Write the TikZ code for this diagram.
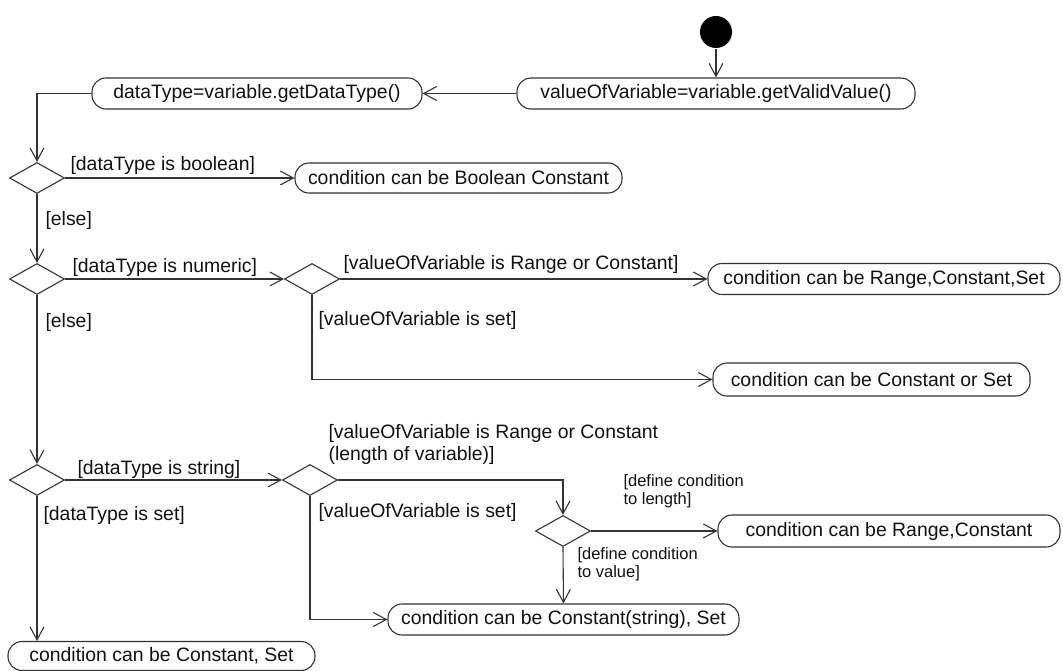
\documentclass[tikz,border=0pt]{standalone}
\usepackage{fontspec}
\setmainfont{Liberation Sans}
\usetikzlibrary{shapes.geometric,arrows.meta}
\definecolor{linec}{HTML}{333333}
\definecolor{txtc}{HTML}{111111}
\begin{document}
\begin{tikzpicture}[x=1pt,y=-1pt,line width=1.1pt,
  act/.style={draw=linec, rectangle, rounded corners=14pt, inner sep=0pt, text=txtc,
    font=\fontsize{19.4}{23}\selectfont},
  dec/.style={draw=linec, diamond, inner sep=0pt, minimum width=55pt, minimum height=31pt},
  guard/.style={inner sep=0pt, anchor=west, text=txtc, font=\fontsize{19.4}{22}\selectfont, align=left},
  sguard/.style={inner sep=0pt, anchor=west, text=txtc, font=\fontsize{16.5}{18.5}\selectfont, align=left},
  flow/.style={draw=linec, -{Straight Barb[length=13pt,width=14pt]}},
]
\useasboundingbox (0,0) rectangle (1063,671);

% nodes
\node[circle, fill=black, minimum size=32pt, inner sep=0pt] (init) at (716,32) {};
\node[act, minimum width=398pt, minimum height=31pt] (vov) at (716,93.5) {valueOfVariable=variable.getValidValue()};
\node[act, minimum width=330pt, minimum height=31pt] (dt) at (257,93.5) {dataType=variable.getDataType()};

\node[dec] (d1) at (37,178) {};
\node[act, minimum width=327pt, minimum height=30pt] (bool) at (458.5,178) {condition can be Boolean Constant};

\node[dec] (d2) at (37,279) {};
\node[dec] (d3) at (312,279) {};
\node[act, minimum width=352pt, minimum height=31pt] (rcs) at (884,279) {condition can be Range,Constant,Set};
\node[act, minimum width=317pt, minimum height=33pt] (cos) at (871.5,379.5) {condition can be Constant or Set};

\node[dec] (d4) at (37,480) {};
\node[dec] (d5) at (310,480) {};
\node[dec] (d6) at (563,531) {};
\node[act, minimum width=342pt, minimum height=32pt] (rc) at (889,531) {condition can be Range,Constant};
\node[act, minimum width=351pt, minimum height=31pt] (css) at (563.5,619.5) {condition can be Constant(string), Set};
\node[act, minimum width=307pt, minimum height=29pt] (cs) at (161.5,656) {condition can be Constant, Set};

% guards
\node[guard] (g1) at (70,165) {[dataType is boolean]};
\node[guard] (g2) at (45,220) {[else]};
\node[guard] (g3) at (72,267) {[dataType is numeric]};
\node[guard] (g4) at (343,264) {[valueOfVariable is Range or Constant]};
\node[guard] (g5) at (318,320) {[valueOfVariable is set]};
\node[guard] (g6) at (45,322) {[else]};
\node[guard] (g7) at (328,444) {[valueOfVariable is Range or Constant\\(length of variable)]};
\node[guard] (g8) at (77,469) {[dataType is string]};
\node[guard] (g9) at (318,512) {[valueOfVariable is set]};
\node[guard] (g10) at (43,515) {[dataType is set]};
\node[sguard] (g11) at (623,491) {[define condition\\to length]};
\node[sguard] (g12) at (577,564) {[define condition\\to value]};

% flows
\draw[flow] (init) -- (vov);
\draw[flow] (vov.west) -- (dt.east);
\draw[flow] (dt.west) -| (d1.north);
\draw[flow] (d1.east) -- (bool.west);
\draw[flow] (d1.south) -- (d2.north);
\draw[flow] (d2.east) -- (d3.west);
\draw[flow] (d3.east) -- (rcs.west);
\draw[flow] (d3.south) |- (cos.west);
\draw[flow] (d2.south) -- (d4.north);
\draw[flow] (d4.east) -- (d5.west);
\draw[flow] (d4.south) -- (d4.south |- cs.north);
\draw[flow] (d5.east) -| (d6.north);
\draw[flow] (d6.east) -- (rc.west);
\draw[flow] (d6.south) -- (css.north);
\draw[flow] (d5.south) |- (css.west);
\end{tikzpicture}
\end{document}
